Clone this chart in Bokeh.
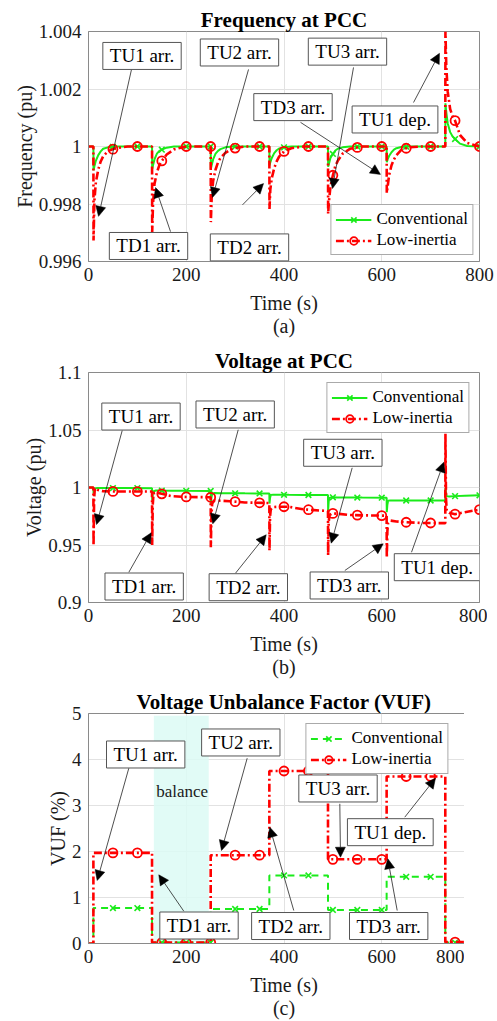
import numpy as np
from bokeh.plotting import figure
from bokeh.models import (Range1d, FixedTicker, Label, Arrow, NormalHead, Legend,
                          LegendItem, BoxAnnotation)
from bokeh.layouts import column
from bokeh.embed import file_html
from bokeh.resources import INLINE

# ---------------- data ----------------
EVENT_T = [10, 130, 250, 370, 490, 610, 730]   # TU1, TD1, TU2, TD2, TU3, TD3 arr., TU1 dep.
T_END = 800
MARK_T = [50, 100, 150, 200, 250, 300, 350, 400, 450, 500, 550, 600, 650, 700, 750, 800]

TIME_TICKS = [0, 200, 400, 600, 800]
TIME_TICK_LABELS = ["0", "200", "400", "600", "800"]

# (a) frequency (pu): sample offsets (s) after each event, values read per event
FREQ_OFFS = [0, 0.3, 2, 5, 10, 15, 20, 30, 45, 70]
freq_start = 1.0
freq_conv = [
    [1.0, 0.99917, 0.9993, 0.9995, 0.9997, 0.99983, 0.99992, 0.99997, 1.0, 1.0],
    [1.0, 0.99922, 0.99935, 0.99955, 0.99975, 0.99985, 0.99989, 0.99996, 1.0, 1.0],
    [1.0, 0.99922, 0.99935, 0.99955, 0.99975, 0.99985, 0.99991, 0.99997, 1.0, 1.0],
    [1.0, 0.99934, 0.99945, 0.9996, 0.99977, 0.99987, 0.99993, 0.99997, 1.0, 1.0],
    [1.0, 0.9993, 0.9994, 0.9996, 0.99974, 0.99986, 0.99992, 0.99997, 1.0, 1.0],
    [1.0, 0.99945, 0.99955, 0.99967, 0.9998, 0.99989, 0.99994, 0.99998, 1.0, 1.0],
    [1.0, 1.0015, 1.0012, 1.0008, 1.0005, 1.00035, 1.00026, 1.0001, 1.00002, 1.0],
]
freq_low = [
    [1.0, 0.99673, 0.9981, 0.99875, 0.9992, 0.99948, 0.99966, 0.99984, 0.99994, 1.0],
    [1.0, 0.99702, 0.9980, 0.9987, 0.9991, 0.99935, 0.9995, 0.99972, 0.9999, 1.0],
    [1.0, 0.99737, 0.9982, 0.9988, 0.9992, 0.99945, 0.9996, 0.99978, 0.99993, 1.0],
    [1.0, 0.99783, 0.9985, 0.9989, 0.99925, 0.99948, 0.99965, 0.99983, 0.99994, 1.0],
    [1.0, 0.99766, 0.9981, 0.9986, 0.9990, 0.99932, 0.9995, 0.99975, 0.99992, 1.0],
    [1.0, 0.99838, 0.9986, 0.9990, 0.99935, 0.99955, 0.9997, 0.99988, 0.99997, 1.0],
    [1.0, 1.004, 1.0028, 1.0019, 1.0013, 1.00105, 1.0009, 1.0004, 1.00012, 1.0],
]
FREQ_TICKS = [0.996, 0.998, 1.0, 1.002, 1.004]
FREQ_TICK_LABELS = ["0.996", "0.998", "1", "1.002", "1.004"]

# (b) voltage (pu)
VOLT_OFFS = [0, 0.3, 1.5, 3, 8, 20, 40, 70]
volt_start = 1.0
volt_conv = [
    [1.0, 0.9948, 0.9975, 0.9992, 0.9996, 0.9996, 0.9995, 0.9995],
    [0.9994, 0.989, 0.9945, 0.9968, 0.9974, 0.9973, 0.9972, 0.9971],
    [0.9970, 0.985, 0.991, 0.9945, 0.9952, 0.9951, 0.9950, 0.9949],
    [0.9948, 0.986, 0.991, 0.9935, 0.9938, 0.9937, 0.9936, 0.9935],
    [0.9934, 0.980, 0.988, 0.9910, 0.9915, 0.9914, 0.9913, 0.9912],
    [0.9911, 0.9785, 0.985, 0.9885, 0.9888, 0.9887, 0.9887, 0.9887],
    [0.9887, 0.9995, 0.995, 0.9925, 0.9922, 0.9925, 0.9928, 0.9932],
]
volt_low = [
    [1.0, 0.9496, 0.990, 0.9995, 0.998, 0.9968, 0.9966, 0.9965],
    [0.9965, 0.9500, 0.985, 0.9950, 0.9955, 0.9945, 0.9925, 0.9918],
    [0.9915, 0.948, 0.975, 0.986, 0.989, 0.9885, 0.9880, 0.9870],
    [0.9865, 0.9452, 0.975, 0.981, 0.983, 0.9833, 0.9832, 0.981],
    [0.9795, 0.9409, 0.970, 0.976, 0.9775, 0.9772, 0.9762, 0.9758],
    [0.9755, 0.9389, 0.962, 0.969, 0.9712, 0.9705, 0.9698, 0.9692],
    [0.969, 1.0467, 0.990, 0.980, 0.978, 0.9768, 0.9785, 0.9808],
]
VOLT_TICKS = [0.9, 0.95, 1.0, 1.05, 1.1]
VOLT_TICK_LABELS = ["0.9", "0.95", "1", "1.05", "1.1"]

# (c) VUF (%) : step levels between edges
VUF_EDGES = [0, 10, 130, 250, 370, 490, 610, 730, 800]
vuf_conv = [0.0, 0.77, 0.02, 0.75, 1.48, 0.73, 1.45, 0.02]
vuf_low = [0.0, 1.97, 0.02, 1.92, 3.75, 1.83, 3.63, 0.03]
VUF_TICKS = [0, 1, 2, 3, 4, 5]
VUF_TICK_LABELS = ["0", "1", "2", "3", "4", "5"]
BALANCE_SPAN = [133.7, 246.0]

# ---------------- styles ----------------
FONT = "Liberation Serif"
GREEN = "#1aeb1a"
RED = "#ff0000"
FRAME = "#8a8a8a"
TXT = "#1a1a1a"
RED_DASH = "8 3 2 3"
GREEN_DASH = "7 5"

# annotation placement (text, label x, label y, arrow start x, y, arrow end x, y)
ANN_A = [
    ("TU1 arr.", 109.5, 1.00315, 88.0, 1.00268, 20.5, 0.99757),
    ("TD1 arr.", 122.8, 0.99654, 167.8, 0.99704, 137.1, 0.99857),
    ("TU2 arr.", 308.9, 1.00327, 327.4, 1.00268, 253.7, 0.99823),
    ("TD2 arr.", 329.4, 0.99649, 315.1, 0.99797, 358.1, 0.99871),
    ("TU3 arr.", 529.9, 1.0033, 542.2, 1.00275, 499.2, 0.99854),
    ("TD3 arr.", 418.4, 1.00137, 433.8, 1.00084, 597.4, 0.99903),
    ("TU1 dep.", 627.1, 1.00094, 665.0, 1.00153, 718.1, 1.00324),
]
ANN_B = [
    ("TU1 arr.", 107.4, 1.0617, 69.0, 1.0496, 16.4, 0.9678),
    ("TU2 arr.", 300.1, 1.0635, 306.3, 1.0502, 254.3, 0.9684),
    ("TD1 arr.", 113.9, 0.9139, 82.5, 0.9263, 128.3, 0.9606),
    ("TD2 arr.", 327.0, 0.9133, 300.8, 0.9255, 363.6, 0.9589),
    ("TU3 arr.", 520.4, 1.0302, 539.5, 1.0171, 496.6, 0.9516),
    ("TD3 arr.", 533.6, 0.9148, 524.4, 0.9278, 603.0, 0.9510),
    ("TU1 dep.", 713.4, 0.9307, 660.9, 0.9437, 726.9, 1.0220),
]
ANN_C = [
    ("TU1 arr.", 117.0, 4.109, 82.5, 3.811, 17.8, 1.370),
    ("TD1 arr.", 226.1, 0.391, 195.0, 0.702, 143.8, 1.493),
    ("TU2 arr.", 311.6, 4.370, 324.7, 4.028, 272.1, 2.022),
    ("TD2 arr.", 413.9, 0.380, 420.0, 0.717, 370.9, 2.528),
    ("TU3 arr.", 510.5, 3.370, 514.2, 3.037, 515.6, 1.876),
    ("TD3 arr.", 614.2, 0.380, 631.6, 0.717, 612.4, 1.841),
    ("TU1 dep.", 617.5, 2.420, 647.1, 2.746, 709.9, 3.593),
]

OUTER_LEFT = 10          # common outer margin; frames land at OUTER_LEFT + widest left panel
# left panel width per plot: y-title sits at its outer edge
AXIS_W = {"a": 78, "b": 65, "c": 44}


def build_series(start, offs, segs):
    t = [0.0]
    y = [start]
    for e, seg in zip(EVENT_T, segs):
        for o, v in zip(offs, seg):
            t.append(e + o)
            y.append(v)
    return np.array(t), np.array(y)


def make_fig(title, ylabel, key, yr, yticks, ylabels, sub, bottom):
    p = figure(frame_width=391, frame_height=230,
               x_range=Range1d(0, T_END), y_range=Range1d(*yr),
               output_backend="svg", toolbar_location=None,
               min_border_left=AXIS_W[key], min_border_right=18, min_border_top=31,
               min_border_bottom=bottom, margin=(0, 0, 0, OUTER_LEFT))
    p.title.text = title
    p.title.align = "center"
    p.title.text_font = FONT
    p.title.text_font_size = "21px"
    p.title.text_font_style = "bold"
    p.title.text_color = "black"
    p.title.standoff = 0
    p.title.offset = 0
    p.xaxis.axis_label = "Time (s)\n" + sub
    p.yaxis.axis_label = ylabel
    p.xaxis.ticker = FixedTicker(ticks=TIME_TICKS)
    p.xaxis.major_label_overrides = dict(zip(TIME_TICKS, TIME_TICK_LABELS))
    p.yaxis.ticker = FixedTicker(ticks=yticks)
    p.yaxis.major_label_overrides = dict(zip(yticks, ylabels))
    p.xgrid.ticker = FixedTicker(ticks=TIME_TICKS)
    p.ygrid.ticker = FixedTicker(ticks=yticks)
    for g in (p.xgrid[0], p.ygrid[0]):
        g.grid_line_color = "#e2e2e2"
        g.grid_line_width = 1
    for ax in (p.xaxis[0], p.yaxis[0]):
        ax.axis_line_color = FRAME
        ax.major_tick_line_color = None
        ax.minor_tick_line_color = None
        ax.major_tick_out = 0
        ax.major_tick_in = 0
        ax.major_label_text_font = FONT
        ax.major_label_text_font_size = "19px"
        ax.major_label_text_color = TXT
        ax.axis_label_text_font = FONT
        ax.axis_label_text_font_size = "20px"
        ax.axis_label_text_font_style = "normal"
        ax.axis_label_text_color = TXT
    p.xaxis.axis_label_text_line_height = 1.07
    p.xaxis.major_label_standoff = 6
    p.xaxis.axis_label_standoff = 8
    p.yaxis.major_label_standoff = 7
    p.yaxis.axis_label_standoff = 0
    p.yaxis.axis_label_text_line_height = 1.0
    p.outline_line_color = FRAME
    p.outline_line_width = 1
    p.background_fill_color = "white"
    p.border_fill_color = "white"
    return p


def add_annotations(p, anns):
    for text, lx, ly, xs, ys, xe, ye in anns:
        p.add_layout(Arrow(x_start=xs, y_start=ys, x_end=xe, y_end=ye,
                           line_color="#222222", line_width=0.8,
                           end=NormalHead(size=10, fill_color="black", line_color="black",
                                          line_width=0.5)))
    for text, lx, ly, xs, ys, xe, ye in anns:
        p.add_layout(Label(x=lx, y=ly, text=text, text_align="center", text_baseline="middle",
                           text_font=FONT, text_font_size="19px", text_color="black",
                           background_fill_color="white", background_fill_alpha=1.0,
                           border_line_color="#555555", border_line_width=1,
                           padding=(7, 3)))


def add_legend(p, items, loc, margin):
    leg = Legend(items=items, location=loc, margin=margin,
                 label_text_font=FONT, label_text_font_size="17px", label_text_color="black",
                 glyph_width=36, glyph_height=19, label_height=19, label_standoff=5,
                 spacing=1, padding=4, border_line_color="#555555", border_line_width=1,
                 background_fill_color="white", background_fill_alpha=1.0)
    p.add_layout(leg)


figs = []

# ---------- (a) ----------
pa = make_fig("Frequency at PCC", "Frequency (pu)", "a", (0.996, 1.004), FREQ_TICKS,
              FREQ_TICK_LABELS, "(a)", 80)
ta, yca = build_series(freq_start, FREQ_OFFS, freq_conv)
_, yla = build_series(freq_start, FREQ_OFFS, freq_low)
g1 = pa.line(ta, yca, line_color=GREEN, line_width=2)
g1m = pa.scatter(MARK_T, np.interp(MARK_T, ta, yca), marker="x", size=8,
                 line_color=GREEN, line_width=1.6)
r1 = pa.line(ta, yla, line_color=RED, line_width=2.6, line_dash=RED_DASH)
r1m = pa.scatter(MARK_T, np.interp(MARK_T, ta, yla), marker="circle", size=9,
                 line_color=RED, fill_color=None, line_width=1.8)
add_annotations(pa, ANN_A)
add_legend(pa, [LegendItem(label="Conventional", renderers=[g1, g1m]),
                LegendItem(label="Low-inertia", renderers=[r1, r1m])], "bottom_right", 6)
figs.append(pa)

# ---------- (b) ----------
pb = make_fig("Voltage at PCC", "Voltage (pu)", "b", (0.9, 1.1), VOLT_TICKS,
              VOLT_TICK_LABELS, "(b)", 80)
tb, ycb = build_series(volt_start, VOLT_OFFS, volt_conv)
_, ylb = build_series(volt_start, VOLT_OFFS, volt_low)
g2 = pb.line(tb, ycb, line_color=GREEN, line_width=2)
g2m = pb.scatter(MARK_T, np.interp(MARK_T, tb, ycb), marker="x", size=8,
                 line_color=GREEN, line_width=1.6)
r2 = pb.line(tb, ylb, line_color=RED, line_width=2.6, line_dash=RED_DASH)
r2m = pb.scatter(MARK_T, np.interp(MARK_T, tb, ylb), marker="circle", size=9,
                 line_color=RED, fill_color=None, line_width=1.8)
add_annotations(pb, ANN_B)
add_legend(pb, [LegendItem(label="Conventional", renderers=[g2, g2m]),
                LegendItem(label="Low-inertia", renderers=[r2, r2m])], "top_right", 10)
figs.append(pb)

# ---------- (c) ----------
pc = make_fig("Voltage Unbalance Factor (VUF)", "VUF (%)", "c", (0, 5), VUF_TICKS,
              VUF_TICK_LABELS, "(c)", 76)
pc.add_layout(BoxAnnotation(left=BALANCE_SPAN[0], right=BALANCE_SPAN[1], bottom=0.03, top=4.95,
                            fill_color="#dcfaf5", fill_alpha=0.85, line_color=None,
                            level="underlay"))
pc.add_layout(Label(x=191.6, y=3.30, text="balance", text_align="center", text_baseline="middle",
                    text_font=FONT, text_font_size="17px", text_color=TXT))
edges = np.array(VUF_EDGES, dtype=float)
conv_lv = np.array(vuf_conv + [vuf_conv[-1]])
low_lv = np.array(vuf_low + [vuf_low[-1]])
idx = np.searchsorted(edges, MARK_T, side="left") - 1
g3 = pc.step(edges, conv_lv, mode="after", line_color=GREEN, line_width=2, line_dash=GREEN_DASH)
g3m = pc.scatter(MARK_T, np.array(vuf_conv)[idx], marker="x", size=8,
                 line_color=GREEN, line_width=1.6)
r3 = pc.step(edges, low_lv, mode="after", line_color=RED, line_width=2.6, line_dash=RED_DASH)
r3m = pc.scatter(MARK_T, np.array(vuf_low)[idx], marker="circle", size=9,
                 line_color=RED, fill_color=None, line_width=1.8)
add_annotations(pc, ANN_C)
add_legend(pc, [LegendItem(label="Conventional", renderers=[g3, g3m]),
                LegendItem(label="Low-inertia", renderers=[r3, r3m])], "top_right", 10)
figs.append(pc)

layout = column(*figs, spacing=0)
open("out.html", "w").write(file_html(layout, INLINE))
